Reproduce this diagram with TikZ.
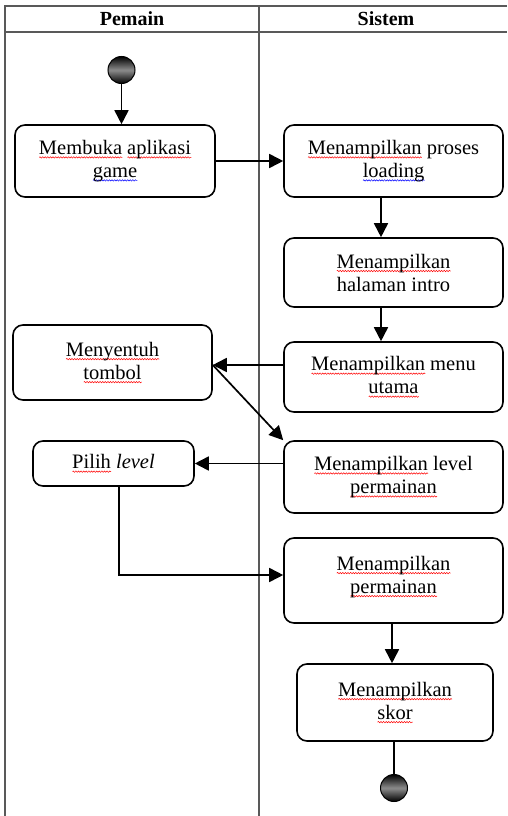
\documentclass[tikz,border=0pt]{standalone}
\usepackage{fontspec}
\setmainfont{Liberation Serif}
\usetikzlibrary{arrows.meta,decorations.pathmorphing}
\newdimen\wvwidth
\newcommand\wavyword[2]{\setbox0\hbox{#2}\global\wvwidth=\wd0\relax
  \rlap{\pgfinterruptpicture\tikz[baseline=0pt]{\draw[#1, line width=0.5pt, sharp corners, solid,
    decorate, decoration={snake, amplitude=0.7pt, segment length=2.6pt}] (0pt,-3pt) -- (\wvwidth,-3pt);}\endpgfinterruptpicture}#2}
\newcommand\rw[1]{\wavyword{red}{#1}}
\newcommand\bw[1]{\wavyword{blue}{#1}}
\tikzset{
  lane/.style={draw=black!65, line width=1.3pt},
  actbox/.style={draw=black, line width=1.6pt, rounded corners=10pt, align=center, inner sep=0pt,
    font=\fontsize{20.5}{23}\selectfont},
  hdr/.style={font=\fontsize{20}{23}\selectfont\bfseries},
  arr/.style={draw=black, line width=1.7pt, -{Triangle[length=14pt,width=14pt]}},
  plain/.style={draw=black, line width=1.7pt},
  dot/.style={circle, draw=black, line width=1pt, top color=black, bottom color=black, middle color=black!45, inner sep=0pt},
}
\begin{document}
\begin{tikzpicture}[x=1pt,y=-1pt]
\useasboundingbox (0,0) rectangle (507,816);
% swimlanes
\draw[lane] (507,6) -- (5,6) -- (5,816);
\draw[lane] (5,32) -- (507,32);
\draw[lane] (259,6) -- (259,816);
\node[hdr] (hp) at (132,19) {Pemain};
\node[hdr] (hs) at (386,19) {Sistem};
% nodes
\node[dot, minimum size=27pt] (start) at (121.5,70) {};
\node[actbox, minimum width=200pt, minimum height=72pt] (b1) at (115,161) {\rw{Membuka} \rw{aplikasi}\\\bw{game}};
\node[actbox, minimum width=219pt, minimum height=72pt] (b2) at (393.5,161) {\rw{Menampilkan} proses\\\bw{loading}};
\node[actbox, minimum width=219pt, minimum height=69pt] (b3) at (393.5,272.5) {\rw{Menampilkan}\\halaman intro};
\node[actbox, minimum width=199pt, minimum height=75pt] (b4) at (112.5,362.5) {\rw{Menyentuh}\\\rw{tombol}};
\node[actbox, minimum width=219pt, minimum height=70pt] (b5) at (393.5,377) {\rw{Menampilkan} menu\\\rw{utama}};
\node[actbox, minimum width=219pt, minimum height=72pt] (b6) at (393.5,477) {\rw{Menampilkan} level\\\rw{permainan}};
\node[actbox, minimum width=161pt, minimum height=45pt] (b7) at (113.5,463.5) {\rw{Pilih} \textit{level}};
\node[actbox, minimum width=219pt, minimum height=85pt] (b8) at (393.5,580.5) {\rw{Menampilkan}\\\rw{permainan}\\[-11pt]~};
\node[actbox, minimum width=196pt, minimum height=77pt] (b9) at (395,702.5) {\rw{Menampilkan}\\\rw{skor}};
\node[dot, minimum size=27pt] (end) at (394,788) {};
% connectors
\draw[arr] (start.south) -- (start.south |- b1.north);
\draw[arr] (b1.east) -- (b2.west);
\draw[arr] ([xshift=-12.5pt]b2.south) -- ([xshift=-12.5pt]b2.south |- b3.north);
\draw[arr] ([xshift=-12.5pt]b3.south) -- ([xshift=-12.5pt]b3.south |- b5.north);
\draw[arr] (b5.west |- 0,365) -- (b4.east |- 0,365);
\draw[arr] (b4.east |- 0,365) -- (b6.north west);
\draw[arr] (b6.west |- b7.east) -- (b7.east);
\draw[arr] ([xshift=5.5pt]b7.south) |- (b8.west |- 0,575);
\draw[arr] ([xshift=-1.5pt]b8.south) -- ([xshift=-1.5pt]b8.south |- b9.north);
\draw[plain] ([xshift=-1pt]b9.south) -- ([xshift=-1pt]b9.south |- end.north);
\end{tikzpicture}
\end{document}
